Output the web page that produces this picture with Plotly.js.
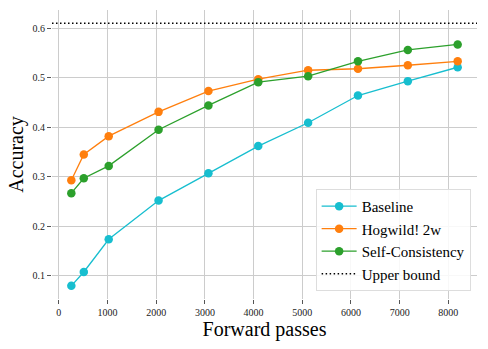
<!DOCTYPE html>
<html>
<head>
<meta charset="utf-8">
<script src="https://cdn.plot.ly/plotly-3.0.1.min.js"></script>
<style>
  html, body { margin: 0; padding: 0; background: #fff; }
  #chart { width: 488px; height: 349px; }
</style>
</head>
<body>
<div id="chart"></div>
<script>
// Forward passes (x) shared by every series
const passes = [256, 512, 1024, 2048, 3072, 4096, 5120, 6144, 7168, 8192];

// Accuracy values
const baseline = [0.080, 0.108, 0.174, 0.252, 0.307, 0.362, 0.409, 0.464, 0.493, 0.521];
const hogwild = [0.293, 0.345, 0.382, 0.431, 0.473, 0.497, 0.515, 0.518, 0.525, 0.533];
const selfConsistency = [0.267, 0.297, 0.322, 0.395, 0.444, 0.491, 0.503, 0.533, 0.556, 0.567];
const upperBound = 0.61;

const xTicks = [0, 1000, 2000, 3000, 4000, 5000, 6000, 7000, 8000];
const yTicks = [0.1, 0.2, 0.3, 0.4, 0.5, 0.6];

const xRange = [-141, 8589];
const yRange = [0.0535, 0.6365];

const SERIF = '"Liberation Serif", "Times New Roman", serif';

function series(name, values, color) {
    return {
        x: passes,
        y: values,
        name: name,
        type: 'scatter',
        mode: 'lines+markers',
        line: { color: color, width: 1.3 },
        marker: { color: color, size: 8.5 },
        hoverinfo: 'none'
    };
}

const traces = [
    series('Baseline', baseline, '#17becf'),
    series('Hogwild! 2w', hogwild, '#ff7f0e'),
    series('Self-Consistency', selfConsistency, '#2ca02c'),
    {
        // dotted reference line spanning the whole x axis
        x: xRange,
        y: [upperBound, upperBound],
        name: 'Upper bound',
        type: 'scatter',
        mode: 'lines',
        line: { color: '#000', width: 1.5, dash: '1.5px,2.5px' },
        hoverinfo: 'none'
    }
];

const axisCommon = {
    showgrid: true,
    gridcolor: '#cccccc',
    gridwidth: 1,
    zeroline: false,
    showline: false,
    ticks: 'outside',
    ticklen: 4,
    tickwidth: 1,
    tickcolor: '#555',
    tickfont: { family: SERIF, size: 10, color: '#222' }
};

const layout = {
    width: 488,
    height: 349,
    margin: { l: 52, r: 10.5, t: 10, b: 50 },
    paper_bgcolor: '#fff',
    plot_bgcolor: '#fff',
    font: { family: SERIF, color: '#000' },
    xaxis: Object.assign({}, axisCommon, {
        range: xRange,
        tickvals: xTicks,
        ticktext: xTicks.map(String),
        title: { text: 'Forward passes', font: { family: SERIF, size: 20, color: '#000' }, standoff: 4 }
    }),
    yaxis: Object.assign({}, axisCommon, {
        range: yRange,
        tickvals: yTicks,
        ticktext: yTicks.map(v => v.toFixed(1)),
        title: { text: 'Accuracy', font: { family: SERIF, size: 20, color: '#000' }, standoff: 3 }
    }),
    showlegend: true,
    legend: {
        x: 0.985,
        y: 0.028,
        xanchor: 'right',
        yanchor: 'bottom',
        bgcolor: 'rgba(255,255,255,0.85)',
        bordercolor: '#dddddd',
        borderwidth: 1,
        font: { family: SERIF, size: 15, color: '#000' },
        itemwidth: 35
    }
};

Plotly.newPlot('chart', traces, layout, { staticPlot: true, displayModeBar: false });
</script>
</body>
</html>
